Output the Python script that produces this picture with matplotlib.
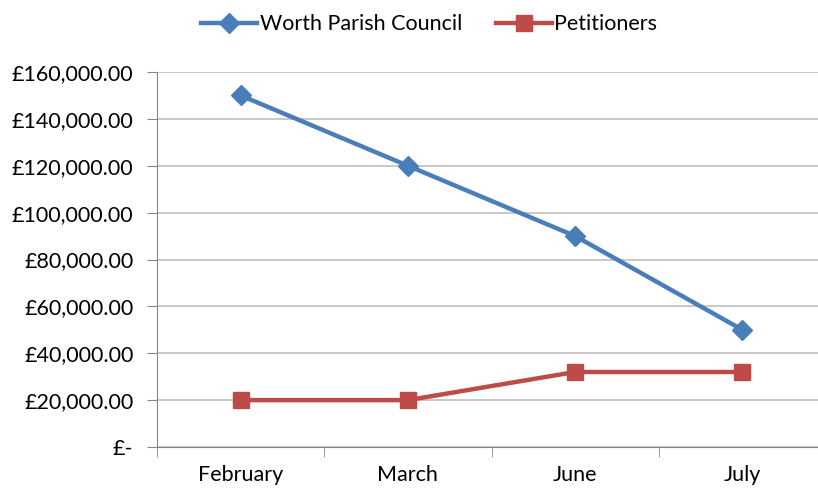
import matplotlib.pyplot as plt
from matplotlib.ticker import FuncFormatter, FixedLocator

months = ["February", "March", "June", "July"]
council = [150000, 120000, 90000, 50000]
petitioners = [20000, 20000, 32000, 32000]

plt.rcParams['font.family'] = ['Lato', 'DejaVu Sans']


def money(v, pos):
    if v == 0:
        return "£-"
    return "£{:,.2f}".format(v)


fig = plt.figure(figsize=(8.18, 4.88), dpi=100)
ax = fig.add_axes([157 / 818, 1 - 447 / 488, 669 / 818, 375 / 488])

x = range(len(months))
ax.plot(x, council, color="#4A7EBB", lw=3.2, marker="D", ms=10,
        label="Worth Parish Council")
ax.plot(x, petitioners, color="#BE4B48", lw=3.2, marker="s", ms=11,
        label="Petitioners")

ax.set_xlim(-0.5, 3.5)
ax.set_ylim(0, 160000)
ax.set_yticks(range(0, 160001, 20000))
ax.yaxis.set_major_formatter(FuncFormatter(money))
ax.set_xticks(list(x))
ax.set_xticklabels(months)
ax.xaxis.set_minor_locator(FixedLocator([-0.5, 0.5, 1.5, 2.5, 3.5]))
ax.tick_params(axis="x", which="major", length=0, pad=13, labelsize=15.5)
ax.tick_params(axis="x", which="minor", length=7, color="#868686")
ax.tick_params(axis="y", length=7, color="#868686", pad=10, labelsize=15.5)

ax.grid(axis="y", color="#BFBFBF", lw=1.2)
ax.set_axisbelow(True)
for s in ["top", "right"]:
    ax.spines[s].set_visible(False)
for s in ["left", "bottom"]:
    ax.spines[s].set_color("#868686")

fig.legend(loc="upper center", bbox_to_anchor=(0.525, 1.01), ncol=2,
           frameon=False, fontsize=15.5, handlelength=2.6, columnspacing=1.6,
           handletextpad=0.1)

fig.savefig("out.png", dpi=100)
